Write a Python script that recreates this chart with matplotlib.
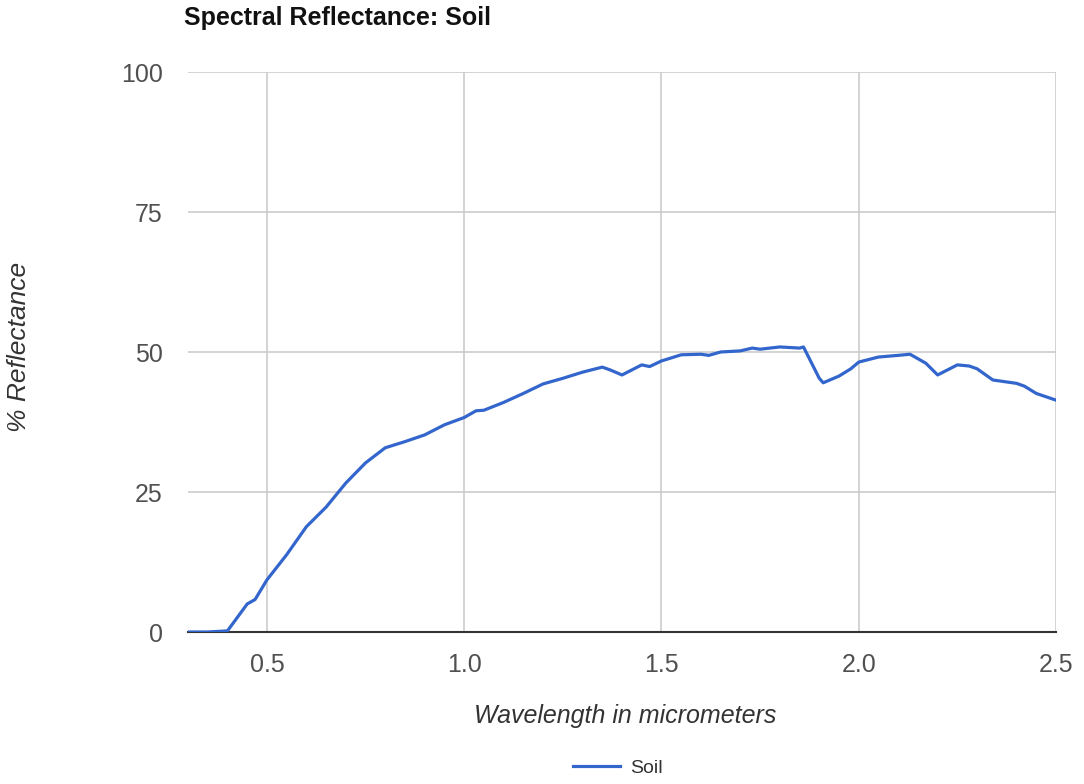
import matplotlib
matplotlib.use("Agg")
import matplotlib.pyplot as plt

wavelength = [0.30, 0.35, 0.40, 0.45, 0.47, 0.50, 0.55, 0.60, 0.65, 0.70, 0.75, 0.80,
              0.85, 0.90, 0.95, 1.00, 1.03, 1.05, 1.10, 1.15, 1.20, 1.25, 1.30, 1.35,
              1.37, 1.40, 1.45, 1.47, 1.50, 1.55, 1.60, 1.62, 1.65, 1.70, 1.73, 1.75,
              1.80, 1.85, 1.86, 1.90, 1.91, 1.95, 1.98, 2.00, 2.05, 2.10, 2.13, 2.17,
              2.20, 2.25, 2.28, 2.30, 2.34, 2.40, 2.42, 2.45, 2.50]
reflectance = [0.0, 0.0, 0.2, 5.0, 5.8, 9.3, 13.8, 18.8, 22.3, 26.6, 30.2, 32.9,
               34.0, 35.2, 37.0, 38.3, 39.5, 39.6, 41.0, 42.6, 44.3, 45.3, 46.4, 47.3,
               46.8, 45.9, 47.7, 47.4, 48.4, 49.5, 49.6, 49.4, 50.0, 50.2, 50.7, 50.5,
               50.9, 50.7, 50.9, 45.3, 44.5, 45.7, 47.0, 48.2, 49.1, 49.4, 49.6, 48.0,
               45.9, 47.7, 47.5, 47.0, 45.0, 44.4, 43.9, 42.6, 41.4]

x_ticks = [0.5, 1.0, 1.5, 2.0, 2.5]
x_tick_labels = ["0.5", "1.0", "1.5", "2.0", "2.5"]
y_ticks = [0, 25, 50, 75, 100]

plt.rcParams['font.family'] = ['Liberation Sans', 'DejaVu Sans']

fig = plt.figure(figsize=(10.84, 7.84), dpi=100)
ax = fig.add_axes([188/1084, 1-632/784, (1056-188)/1084, (632-72)/784])

ax.plot(wavelength, reflectance, color='#3366cc', lw=2.3, label='Soil', solid_joinstyle='round')
ax.set_xlim(0.3, 2.5)
ax.set_ylim(0, 100)
ax.set_xticks(x_ticks)
ax.set_xticklabels(x_tick_labels)
ax.set_yticks(y_ticks)
ax.grid(True, color='#cccccc', lw=1.2)
ax.set_axisbelow(True)
for s in ['top', 'right', 'left']:
    ax.spines[s].set_visible(False)
ax.spines['bottom'].set_color('#333333')
ax.spines['bottom'].set_linewidth(1.5)
ax.spines['bottom'].set_zorder(1)
ax.tick_params(length=0, labelsize=18, colors='#505050')
ax.tick_params(axis='x', pad=15)
ax.tick_params(axis='y', pad=18)

fig.text(184/1084, 1-18/784, 'Spectral Reflectance: Soil', fontsize=18, fontweight='bold',
         color='#111111', ha='left', va='center')
fig.text(625/1084, 1-716/784, 'Wavelength in micrometers', fontsize=18, style='italic',
         color='#333333', ha='center', va='center')
fig.text(19/1084, 1-347/784, '% Reflectance', fontsize=19, style='italic',
         color='#333333', ha='center', va='center', rotation=90)

leg = fig.legend(loc='center', bbox_to_anchor=(618/1084, 1-768/784), frameon=False,
                 fontsize=14, handlelength=2.4, handletextpad=0.5)
for t in leg.get_texts():
    t.set_color('#333333')

fig.savefig('out.png', dpi=100, facecolor='white')
